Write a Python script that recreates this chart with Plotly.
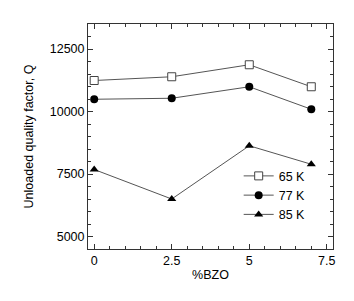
import plotly.graph_objects as go

bzo = [0, 2.5, 5, 7]
q_65k = [11240, 11390, 11870, 10990]
q_77k = [10490, 10530, 10990, 10090]
q_85k = [7680, 6500, 8630, 7890]
series_names = ["65 K", "77 K", "85 K"]
x_ticks = [0, 2.5, 5, 7.5]
x_ticklabels = ["0", "2.5", "5", "7.5"]
y_ticks = [5000, 7500, 10000, 12500]
y_ticklabels = ["5000", "7500", "10000", "12500"]

line_col = "#555555"
fig = go.Figure()
fig.add_trace(go.Scatter(x=bzo, y=q_65k, name=series_names[0], mode="lines+markers",
                         line=dict(color=line_col, width=1),
                         marker=dict(symbol="square", size=8, color="white",
                                     line=dict(color="#444444", width=1))))
fig.add_trace(go.Scatter(x=bzo, y=q_77k, name=series_names[1], mode="lines+markers",
                         line=dict(color=line_col, width=1),
                         marker=dict(symbol="circle", size=8, color="black")))
fig.add_trace(go.Scatter(x=bzo, y=q_85k, name=series_names[2], mode="lines+markers",
                         line=dict(color=line_col, width=1),
                         marker=dict(symbol="triangle-up", size=8, color="black")))

axis_common = dict(showline=True, linecolor="#333333", linewidth=1, mirror="allticks",
                   ticks="inside", ticklen=5, tickcolor="#333333", showgrid=False,
                   zeroline=False, tickfont=dict(size=12.5, color="black"))
fig.update_xaxes(range=[-0.2, 7.7], tickvals=x_ticks, ticktext=x_ticklabels,
                 minor=dict(ticks="inside", dtick=0.5, ticklen=3, tickcolor="#333333"),
                 title=dict(text="%BZO", font=dict(size=12.5, color="black"), standoff=3),
                 **axis_common)
fig.update_yaxes(range=[4500, 13500], tickvals=y_ticks, ticktext=y_ticklabels,
                 minor=dict(ticks="inside", dtick=500, ticklen=3, tickcolor="#333333"),
                 title=dict(text="Unloaded quality factor, Q", font=dict(size=12.5, color="black"), standoff=13),
                 **axis_common)
fig.update_layout(width=354, height=301, margin=dict(l=80, r=29, t=16, b=60),
                  paper_bgcolor="white", plot_bgcolor="white",
                  font=dict(family="Liberation Sans, Arial, sans-serif", size=12, color="black"),
                  legend=dict(x=0.615, y=0.39, xanchor="left", yanchor="top", bgcolor="rgba(0,0,0,0)",
                              font=dict(size=12.5), tracegroupgap=0, itemwidth=30))
fig.write_html("out.html")
